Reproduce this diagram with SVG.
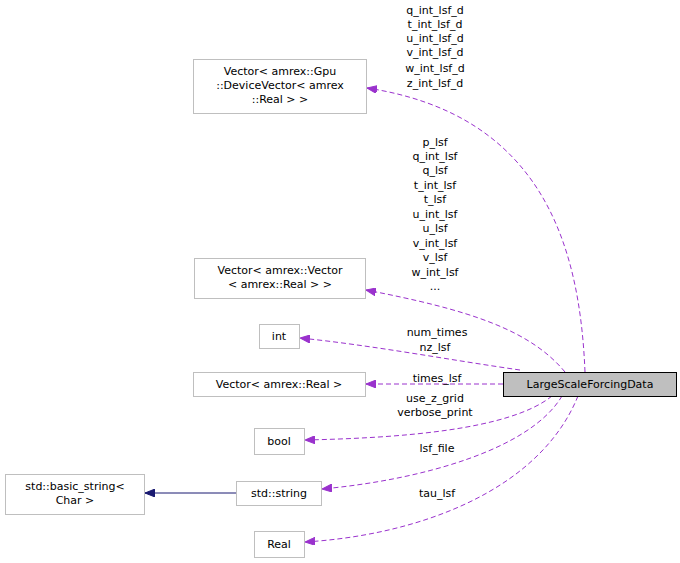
<svg xmlns="http://www.w3.org/2000/svg" width="680" height="563" viewBox="0 0 680 563">
<style>
text{font-family:"DejaVu Sans",sans-serif;font-size:11px;fill:#000;text-anchor:middle}
.n rect{fill:#fff;stroke:#bfbfbf}
.e{fill:none;stroke:#9a32cd;stroke-dasharray:5,3}
</style>
<defs>
<marker id="p" markerWidth="10" markerHeight="8" refX="10" refY="4" orient="auto" markerUnits="userSpaceOnUse"><path d="M0,0 L10,4 L0,8 Z" fill="#9a32cd" stroke="#9a32cd"/></marker>
<marker id="b" markerWidth="10" markerHeight="8" refX="10" refY="4" orient="auto" markerUnits="userSpaceOnUse"><path d="M0,0 L10,4 L0,8 Z" fill="#191970" stroke="#191970"/></marker>
</defs>
<rect width="680" height="563" fill="#fff"/>
<g id="connectors">
<path class="e" marker-end="url(#p)" d="M585,372 C580,250 545,115 367,88"/>
<path class="e" marker-end="url(#p)" d="M565,372 C530,330 470,310 366,290"/>
<path class="e" marker-end="url(#p)" d="M520,370 C450,360 370,345 300,338"/>
<path class="e" marker-end="url(#p)" d="M503,384 L366,384"/>
<path class="e" marker-end="url(#p)" d="M552,396 C510,430 400,438 305,440"/>
<path class="e" marker-end="url(#p)" d="M562,396 C530,450 420,480 322,489"/>
<path class="e" marker-end="url(#p)" d="M578,396 C540,490 420,535 305,542"/>
<path d="M236,493 L145,493" fill="none" stroke="#191970" marker-end="url(#b)"/>
<text x="435" y="14">q_int_lsf_d</text><text x="435" y="28">t_int_lsf_d</text><text x="435" y="42">u_int_lsf_d</text><text x="435" y="56">v_int_lsf_d</text><text x="435" y="72">w_int_lsf_d</text><text x="435" y="87">z_int_lsf_d</text>
<text x="435" y="146">p_lsf</text><text x="435" y="160">q_int_lsf</text><text x="435" y="174">q_lsf</text><text x="435" y="189">t_int_lsf</text><text x="435" y="203">t_lsf</text><text x="435" y="218">u_int_lsf</text><text x="435" y="232">u_lsf</text><text x="435" y="247">v_int_lsf</text><text x="435" y="261">v_lsf</text><text x="435" y="276">w_int_lsf</text><text x="435" y="290">...</text>
<text x="437" y="336">num_times</text><text x="435" y="351">nz_lsf</text>
<text x="437" y="382">times_lsf</text>
<text x="435" y="402">use_z_grid</text><text x="435" y="416">verbose_print</text>
<text x="437" y="452">lsf_file</text>
<text x="437" y="497">tau_lsf</text>
</g>
<g id="gpu" class="n"><rect x="193.5" y="59.5" width="173" height="54"/><text x="280" y="75">Vector&lt; amrex::Gpu</text><text x="280" y="89">::DeviceVector&lt; amrex</text><text x="280" y="103">::Real &gt; &gt;</text></g>
<g id="vv" class="n"><rect x="194.5" y="258.5" width="171" height="40"/><text x="280" y="274">Vector&lt; amrex::Vector</text><text x="280" y="288">&lt; amrex::Real &gt; &gt;</text></g>
<g id="int" class="n"><rect x="259.5" y="324.5" width="40" height="24"/><text x="279" y="340">int</text></g>
<g id="vr" class="n"><rect x="193.5" y="372.5" width="172" height="24"/><text x="279" y="388">Vector&lt; amrex::Real &gt;</text></g>
<g id="bool" class="n"><rect x="254.5" y="428.5" width="50" height="26"/><text x="279" y="445">bool</text></g>
<g id="str" class="n"><rect x="236.5" y="481.5" width="85" height="24"/><text x="279" y="497">std::string</text></g>
<g id="bs" class="n"><rect x="5.5" y="474.5" width="139" height="40"/><text x="75" y="490">std::basic_string&lt;</text><text x="75" y="504">Char &gt;</text></g>
<g id="real" class="n"><rect x="254.5" y="531.5" width="50" height="26"/><text x="279" y="548">Real</text></g>
<g id="lsfd"><rect x="503.5" y="372.5" width="173" height="24" fill="#bfbfbf" stroke="#000"/><text x="590" y="388">LargeScaleForcingData</text></g>
</svg>
